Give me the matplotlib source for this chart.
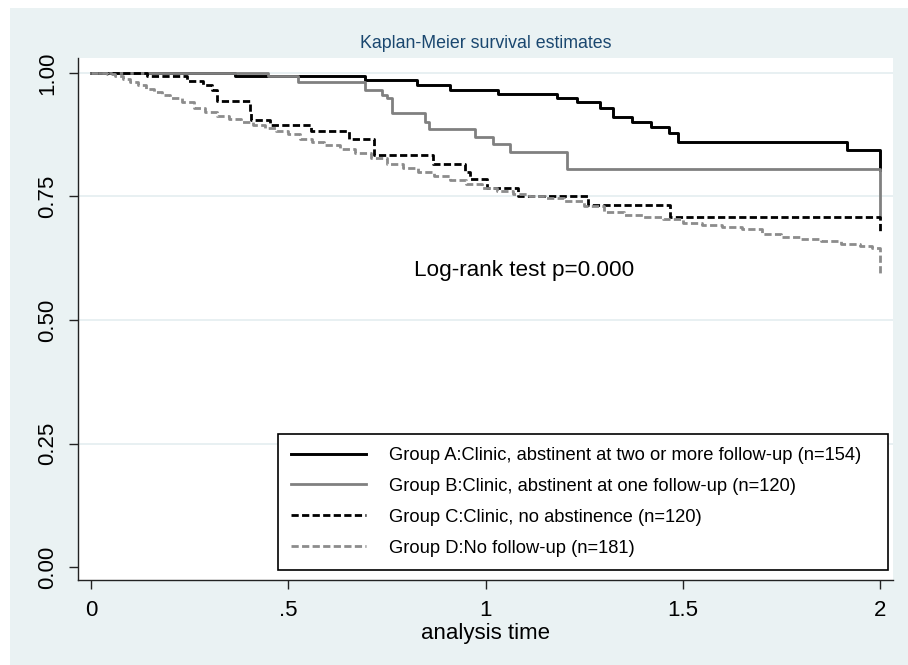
import matplotlib.pyplot as plt
from matplotlib.patches import Rectangle

plt.rcParams['font.family'] = ['Liberation Sans', 'DejaVu Sans']

# Kaplan-Meier step data (time, survival after the step)
time_a = [0, 0.365, 0.695, 0.826, 0.910, 1.032, 1.181, 1.232, 1.290, 1.323,
          1.371, 1.420, 1.464, 1.489, 1.916, 2.0]
surv_a = [1.0, 0.993, 0.986, 0.976, 0.966, 0.957, 0.949, 0.940, 0.929, 0.910,
          0.901, 0.890, 0.878, 0.860, 0.843, 0.804]

time_b = [0, 0.449, 0.525, 0.695, 0.737, 0.750, 0.762, 0.847, 0.857, 0.973,
          1.019, 1.062, 1.206, 2.0]
surv_b = [1.0, 0.993, 0.982, 0.966, 0.955, 0.949, 0.918, 0.901, 0.887, 0.871,
          0.856, 0.839, 0.806, 0.709]

time_c = [0, 0.141, 0.243, 0.284, 0.306, 0.319, 0.403, 0.406, 0.454, 0.558,
          0.654, 0.717, 0.867, 0.948, 0.961, 1.003, 1.083, 1.259, 1.468, 2.0]
surv_c = [1.0, 0.993, 0.984, 0.976, 0.966, 0.942, 0.920, 0.905, 0.895, 0.883,
          0.866, 0.833, 0.816, 0.800, 0.785, 0.767, 0.751, 0.733, 0.709, 0.679]

time_d = [0, 0.04, 0.06, 0.08, 0.10, 0.12, 0.14, 0.16, 0.18, 0.20, 0.23, 0.26,
          0.29, 0.32, 0.35, 0.38, 0.41, 0.44, 0.47, 0.50, 0.53, 0.56, 0.59, 0.63,
          0.67, 0.71, 0.75, 0.79, 0.83, 0.87, 0.91, 0.95, 0.99, 1.03, 1.07, 1.11,
          1.15, 1.20, 1.25, 1.30, 1.35, 1.40, 1.45, 1.50, 1.55, 1.60, 1.65, 1.70,
          1.75, 1.80, 1.85, 1.90, 1.95, 1.98, 2.0]
surv_d = [1.0, 0.998, 0.994, 0.988, 0.981, 0.975, 0.967, 0.961, 0.955, 0.949,
          0.940, 0.928, 0.920, 0.913, 0.906, 0.900, 0.894, 0.888, 0.883, 0.876,
          0.867, 0.860, 0.854, 0.846, 0.838, 0.828, 0.816, 0.808, 0.800, 0.792,
          0.784, 0.775, 0.766, 0.760, 0.755, 0.751, 0.746, 0.740, 0.730, 0.718,
          0.713, 0.709, 0.704, 0.697, 0.692, 0.689, 0.684, 0.674, 0.667, 0.663,
          0.659, 0.654, 0.650, 0.646, 0.588]

labels = [
    "Group A:Clinic, abstinent at two or more follow-up (n=154)",
    "Group B:Clinic, abstinent at one follow-up (n=120)",
    "Group C:Clinic, no abstinence (n=120)",
    "Group D:No follow-up (n=181)",
]
xticks = [0, 0.5, 1, 1.5, 2]
xticklabels = ["0", ".5", "1", "1.5", "2"]
yticks = [0, 0.25, 0.5, 0.75, 1.0]
yticklabels = ["0.00", "0.25", "0.50", "0.75", "1.00"]

bg = '#eaf2f3'
W, H = 908, 665

fig = plt.figure(figsize=(W / 100, H / 100), dpi=100, facecolor=bg)
# thin white strips on the left and top edge of the image
fig.patches.append(Rectangle((0, 0), 10 / W, 1, transform=fig.transFigure,
                             facecolor='white', edgecolor='none'))
fig.patches.append(Rectangle((0, 1 - 8 / H), 1, 8 / H, transform=fig.transFigure,
                             facecolor='white', edgecolor='none'))

ax = fig.add_axes([78 / W, 1 - 580 / H, 815 / W, 522 / H])
ax.set_facecolor('white')

ax.set_xlim(-0.033, 2.033)
ax.set_ylim(-0.026, 1.030)

for y in [0.25, 0.5, 0.75, 1.0]:
    ax.axhline(y, color='#e4eef0', lw=1.2, zorder=1)

ax.step(time_a, surv_a, where='post', color='black', lw=2.1, label=labels[0], zorder=3)
ax.step(time_b, surv_b, where='post', color='#808080', lw=2.0, label=labels[1], zorder=4)
lc, = ax.step(time_c, surv_c, where='post', color='black', lw=2.0, label=labels[2], zorder=5)
ld, = ax.step(time_d, surv_d, where='post', color='#8c8c8c', lw=2.0, label=labels[3], zorder=6)
lc.set_dashes((2.6, 1.2))
ld.set_dashes((2.6, 1.2))

ax.set_xticks(xticks)
ax.set_xticklabels(xticklabels, fontsize=16)
ax.set_yticks(yticks)
ax.set_yticklabels(yticklabels, fontsize=16, rotation=90, va='center')
ax.tick_params(axis='both', direction='out', length=6.5, width=1.0, color='#222222')
ax.tick_params(axis='y', pad=8)
ax.tick_params(axis='x', pad=8)

for side in ['top', 'right']:
    ax.spines[side].set_visible(False)
for side in ['left', 'bottom']:
    ax.spines[side].set_color('#222222')
    ax.spines[side].set_linewidth(1.0)

ax.set_xlabel("analysis time", fontsize=16, labelpad=1)
fig.text(486 / W, 1 - 44 / H, "Kaplan-Meier survival estimates", ha='center',
         va='center', fontsize=12.8, color='#1a476f')

ax.text(0.82, 0.601, "Log-rank test p=0.000", fontsize=16.2, va='center', ha='left')

leg = ax.legend(loc='lower left', bbox_to_anchor=(0.2454, 0.0192, 0.7485, 0.2),
                mode='expand', fontsize=13.2,
                handlelength=4.1, handletextpad=1.25, labelspacing=0.76,
                borderpad=0.72, borderaxespad=0, fancybox=False, framealpha=1,
                edgecolor='black')
leg.get_frame().set_linewidth(1.2)

fig.savefig('out.png', dpi=100, facecolor=fig.get_facecolor())
